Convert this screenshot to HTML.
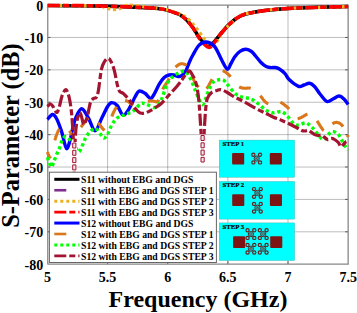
<!DOCTYPE html>
<html><head><meta charset="utf-8"><style>html,body{margin:0;padding:0;background:#fff;width:357px;height:313px;overflow:hidden;font-family:"Liberation Serif",serif}</style></head>
<body><svg width="357" height="313" viewBox="0 0 357 313" style="position:absolute;left:0;top:0">
<rect width="357" height="313" fill="#fff"/>
<path d="M107.58 5.07V264.19M167.72 5.07V264.19M227.86 5.07V264.19M288.00 5.07V264.19" stroke="#000" stroke-opacity="0.26" stroke-width="1" fill="none"/>
<path d="M47.44 37.46H348.14M47.44 69.85H348.14M47.44 102.24H348.14M47.44 134.63H348.14M47.44 167.02H348.14M47.44 199.41H348.14M47.44 231.80H348.14" stroke="#000" stroke-opacity="0.26" stroke-width="1" fill="none"/>
<path d="M107.58 264.19v-3M107.58 5.07v3M167.72 264.19v-3M167.72 5.07v3M227.86 264.19v-3M227.86 5.07v3M288.00 264.19v-3M288.00 5.07v3M47.44 37.46h3M348.14 37.46h-3M47.44 69.85h3M348.14 69.85h-3M47.44 102.24h3M348.14 102.24h-3M47.44 134.63h3M348.14 134.63h-3M47.44 167.02h3M348.14 167.02h-3M47.44 199.41h3M348.14 199.41h-3M47.44 231.80h3M348.14 231.80h-3" stroke="#555" stroke-width="1" fill="none"/>
<path d="M47.75 5.07V264.19M47.44 264.19H348.14V5.07H47.44" stroke="#888" stroke-width="1.3" fill="none"/>
<g fill="none" stroke-linejoin="round">
<path d="M47.40 5.60C52.83 5.62 69.97 5.60 80.00 5.70C90.03 5.80 99.27 5.98 107.60 6.20C115.93 6.42 123.43 6.75 130.00 7.00C136.57 7.25 142.00 7.40 147.00 7.70C152.00 8.00 156.55 8.35 160.00 8.80C163.45 9.25 165.20 9.73 167.70 10.40C170.20 11.07 172.95 12.07 175.00 12.80C177.05 13.53 178.05 13.58 180.00 14.80C181.95 16.02 184.47 17.85 186.70 20.10C188.93 22.35 191.43 25.57 193.40 28.30C195.37 31.03 196.82 34.17 198.50 36.50C200.18 38.83 201.97 40.97 203.50 42.30C205.03 43.63 206.45 44.18 207.70 44.50C208.95 44.82 210.02 44.53 211.00 44.20C211.98 43.87 212.32 43.82 213.60 42.50C214.88 41.18 216.97 38.38 218.70 36.30C220.43 34.22 222.45 31.80 224.00 30.00C225.55 28.20 226.67 26.87 228.00 25.50C229.33 24.13 230.42 23.08 232.00 21.80C233.58 20.52 235.33 19.07 237.50 17.80C239.67 16.53 240.42 15.42 245.00 14.20C249.58 12.98 257.83 11.47 265.00 10.50C272.17 9.53 278.83 8.93 288.00 8.40C297.17 7.87 309.98 7.60 320.00 7.30C330.02 7.00 343.42 6.72 348.10 6.60" stroke="#7e2f8e" stroke-width="3" stroke-dasharray="12 3 6 3"/>
<path d="M47.40 5.60C52.83 5.62 69.97 5.60 80.00 5.70C90.03 5.80 99.27 5.98 107.60 6.20C115.93 6.42 123.43 6.75 130.00 7.00C136.57 7.25 142.00 7.40 147.00 7.70C152.00 8.00 156.55 8.35 160.00 8.80C163.45 9.25 165.20 9.73 167.70 10.40C170.20 11.07 172.95 12.07 175.00 12.80C177.05 13.53 178.05 13.58 180.00 14.80C181.95 16.02 184.47 17.85 186.70 20.10C188.93 22.35 191.43 25.57 193.40 28.30C195.37 31.03 196.82 34.17 198.50 36.50C200.18 38.83 201.97 40.97 203.50 42.30C205.03 43.63 206.45 44.18 207.70 44.50C208.95 44.82 210.02 44.53 211.00 44.20C211.98 43.87 212.32 43.82 213.60 42.50C214.88 41.18 216.97 38.38 218.70 36.30C220.43 34.22 222.45 31.80 224.00 30.00C225.55 28.20 226.67 26.87 228.00 25.50C229.33 24.13 230.42 23.08 232.00 21.80C233.58 20.52 235.33 19.07 237.50 17.80C239.67 16.53 240.42 15.42 245.00 14.20C249.58 12.98 257.83 11.47 265.00 10.50C272.17 9.53 278.83 8.93 288.00 8.40C297.17 7.87 309.98 7.60 320.00 7.30C330.02 7.00 343.42 6.72 348.10 6.60" stroke="#000" stroke-width="3.5"/>
<path d="M47.40 5.60C54.50 5.63 81.23 5.70 90.00 5.80C98.77 5.90 97.00 5.75 100.00 6.20C103.00 6.65 105.67 7.95 108.00 8.50C110.33 9.05 112.00 9.50 114.00 9.50C116.00 9.50 118.00 9.17 120.00 8.50C122.00 7.83 123.83 6.00 126.00 5.50C128.17 5.00 129.50 5.22 133.00 5.50C136.50 5.78 142.50 6.70 147.00 7.20C151.50 7.70 156.55 8.03 160.00 8.50C163.45 8.97 165.20 9.37 167.70 10.00C170.20 10.63 172.95 11.58 175.00 12.30C177.05 13.02 178.05 13.38 180.00 14.30C181.95 15.22 184.43 16.05 186.70 17.80C188.97 19.55 191.55 22.47 193.60 24.80C195.65 27.13 197.27 29.52 199.00 31.80C200.73 34.08 202.42 36.55 204.00 38.50C205.58 40.45 207.25 42.37 208.50 43.50C209.75 44.63 210.42 45.22 211.50 45.30C212.58 45.38 213.87 45.05 215.00 44.00C216.13 42.95 217.17 40.88 218.30 39.00C219.43 37.12 220.52 34.58 221.80 32.70C223.08 30.82 224.55 29.15 226.00 27.70C227.45 26.25 229.08 25.20 230.50 24.00C231.92 22.80 233.25 21.63 234.50 20.50C235.75 19.37 236.25 18.28 238.00 17.20C239.75 16.12 240.50 15.12 245.00 14.00C249.50 12.88 257.83 11.43 265.00 10.50C272.17 9.57 278.83 8.93 288.00 8.40C297.17 7.87 309.98 7.60 320.00 7.30C330.02 7.00 343.42 6.72 348.10 6.60" stroke="#edb120" stroke-width="3.3" stroke-dasharray="3.2 2.8"/>
<path d="M47.40 5.40C52.83 5.42 69.97 5.37 80.00 5.50C90.03 5.63 99.27 5.95 107.60 6.20C115.93 6.45 123.43 6.75 130.00 7.00C136.57 7.25 142.00 7.40 147.00 7.70C152.00 8.00 156.55 8.35 160.00 8.80C163.45 9.25 165.20 9.73 167.70 10.40C170.20 11.07 172.95 12.07 175.00 12.80C177.05 13.53 178.05 13.58 180.00 14.80C181.95 16.02 184.47 17.82 186.70 20.10C188.93 22.38 191.43 25.68 193.40 28.50C195.37 31.32 196.82 34.50 198.50 37.00C200.18 39.50 201.82 41.78 203.50 43.50C205.18 45.22 207.18 46.88 208.60 47.30C210.02 47.72 211.02 46.80 212.00 46.00C212.98 45.20 213.38 44.12 214.50 42.50C215.62 40.88 217.12 38.38 218.70 36.30C220.28 34.22 222.45 31.80 224.00 30.00C225.55 28.20 226.67 26.87 228.00 25.50C229.33 24.13 230.42 23.08 232.00 21.80C233.58 20.52 235.33 19.07 237.50 17.80C239.67 16.53 240.42 15.42 245.00 14.20C249.58 12.98 257.83 11.47 265.00 10.50C272.17 9.53 278.83 8.93 288.00 8.40C297.17 7.87 309.98 7.60 320.00 7.30C330.02 7.00 343.42 6.72 348.10 6.60" stroke="#ff0000" stroke-width="3.5" stroke-dasharray="12 3 6 3" stroke-dashoffset="23.39"/>
<path d="M47.40 119.50C48.25 118.67 50.98 114.67 52.50 114.50C54.02 114.33 54.98 115.65 56.50 118.50C58.02 121.35 59.93 126.60 61.60 131.60C63.27 136.60 65.00 147.43 66.50 148.50C68.00 149.57 69.55 141.45 70.60 138.00C71.65 134.55 71.93 131.20 72.80 127.80C73.67 124.40 74.32 120.77 75.80 117.60C77.28 114.43 79.60 108.73 81.70 108.80C83.80 108.87 86.17 114.33 88.40 118.00C90.63 121.67 92.87 130.80 95.10 130.80C97.33 130.80 99.72 122.05 101.80 118.00C103.88 113.95 106.00 109.05 107.60 106.50C109.20 103.95 109.80 102.87 111.40 102.70C113.00 102.53 115.28 103.43 117.20 105.50C119.12 107.57 120.98 114.45 122.90 115.10C124.82 115.75 126.68 112.42 128.70 109.40C130.72 106.38 133.27 100.05 135.00 97.00C136.73 93.95 137.43 91.72 139.10 91.10C140.77 90.48 143.08 92.07 145.00 93.30C146.92 94.53 149.00 98.50 150.60 98.50C152.20 98.50 153.13 95.75 154.60 93.30C156.07 90.85 157.80 86.45 159.40 83.80C161.00 81.15 162.60 78.87 164.20 77.40C165.80 75.93 167.40 75.40 169.00 75.00C170.60 74.60 172.22 74.73 173.80 75.00C175.38 75.27 176.92 76.73 178.50 76.60C180.08 76.47 181.97 75.40 183.30 74.20C184.63 73.00 185.43 71.53 186.50 69.40C187.57 67.27 188.63 63.80 189.70 61.40C190.77 59.00 191.33 57.72 192.90 55.00C194.47 52.28 196.88 47.27 199.10 45.10C201.32 42.93 203.63 41.78 206.20 42.00C208.77 42.22 211.92 43.40 214.50 46.40C217.08 49.40 219.57 56.20 221.70 60.00C223.83 63.80 225.75 68.62 227.30 69.20C228.85 69.78 229.72 65.62 231.00 63.50C232.28 61.38 233.50 58.53 235.00 56.50C236.50 54.47 238.17 52.50 240.00 51.30C241.83 50.10 244.08 49.27 246.00 49.30C247.92 49.33 249.83 50.30 251.50 51.50C253.17 52.70 254.42 54.67 256.00 56.50C257.58 58.33 259.30 60.82 261.00 62.50C262.70 64.18 264.53 65.75 266.20 66.60C267.87 67.45 269.53 67.45 271.00 67.60C272.47 67.75 273.67 67.30 275.00 67.50C276.33 67.70 277.33 67.78 279.00 68.80C280.67 69.82 283.32 71.80 285.00 73.60C286.68 75.40 286.85 77.48 289.10 79.60C291.35 81.72 296.02 85.40 298.50 86.30C300.98 87.20 302.17 85.50 304.00 85.00C305.83 84.50 307.75 83.05 309.50 83.30C311.25 83.55 312.75 84.72 314.50 86.50C316.25 88.28 317.92 91.50 320.00 94.00C322.08 96.50 324.83 100.67 327.00 101.50C329.17 102.33 331.00 99.92 333.00 99.00C335.00 98.08 337.17 96.00 339.00 96.00C340.83 96.00 342.48 97.58 344.00 99.00C345.52 100.42 347.42 103.58 348.10 104.50" stroke="#0000ff" stroke-width="3.4"/>
<path d="M47.40 152.00 47.43 152.07 47.47 152.15 47.51 152.25 47.56 152.35 47.60 152.47 47.65 152.59 47.70 152.73 47.76 152.87 47.81 153.02 47.87 153.18 47.93 153.34 47.99 153.51 48.06 153.68 48.12 153.86 48.19 154.04 48.26 154.22 48.33 154.40 48.40 154.58 48.47 154.76 48.54 154.94 48.62 155.11 48.69 155.29 48.77 155.46 48.84 155.62 48.92 155.78 48.99 155.94 49.07 156.09 49.15 156.22 49.22 156.36 49.30 156.48 49.37 156.59 49.44 156.69 49.52 156.78 49.59 156.85 49.66 156.92 49.73 156.96 49.80 157.00 49.87 157.01 49.94 157.02 50.00 157.00 50.06 156.97 50.13 156.93 50.19 156.87 50.25 156.80 50.32 156.73 50.38 156.64 50.44 156.54 50.50 156.43 50.57 156.31M54.83 140.28 54.90 140.02 54.98 139.76 55.05 139.50 55.13 139.25 55.20 139.00 55.28 138.76 55.35 138.51 55.43 138.27 55.50 138.03 55.58 137.79 55.66 137.55 55.73 137.31 55.81 137.07 55.89 136.83 55.97 136.59 56.04 136.36 56.12 136.12 56.20 135.89 56.28 135.66 56.36 135.43 56.44 135.20 56.52 134.98 56.61 134.75 56.69 134.53 56.77 134.31 56.85 134.09 56.93 133.88 57.02 133.67 57.10 133.46 57.18 133.25 57.27 133.04 57.35 132.84 57.44 132.64 57.53 132.44 57.61 132.25 57.70 132.06 57.79 131.87 57.87 131.69 57.96 131.51 58.05 131.33 58.14 131.16 58.23 130.99 58.32 130.82 58.41 130.66 58.50 130.50 58.59 130.35 58.68 130.19 58.78 130.04 58.87 129.90 58.97 129.75 59.07 129.61 59.16 129.47 59.26 129.33 59.36 129.20 59.46 129.07M69.41 130.89 69.50 131.00 69.59 131.12 69.69 131.24 69.79 131.37 69.88 131.51 69.98 131.65 70.08 131.79 70.18 131.94 70.28 132.10 70.38 132.26 70.48 132.42 70.58 132.59 70.68 132.75 70.78 132.92 70.88 133.10 70.99 133.27 71.09 133.44 71.19 133.61 71.29 133.78 71.40 133.96 71.50 134.12 71.60 134.29 71.71 134.46 71.81 134.62 71.91 134.78 72.01 134.94M80.88 127.21 80.96 127.11 81.03 127.01 81.10 126.91 81.18 126.82 81.25 126.72 81.32 126.63 81.40 126.53 81.47 126.44 81.54 126.34 81.62 126.25 81.69 126.16 81.76 126.06 81.84 125.97 81.91 125.88 81.99 125.78 82.06 125.69 82.14 125.60 82.21 125.50 82.29 125.40 82.37 125.31 82.45 125.21 82.52 125.11 82.60 125.01 82.68 124.91 82.76 124.81 82.84 124.71 82.92 124.61 83.00 124.50 83.08 124.39 83.16 124.28 83.25 124.17 83.33 124.06 83.42 123.95 83.51 123.83 83.60 123.72 83.68 123.60 83.77 123.48 83.86 123.36 83.95 123.24 84.04 123.12 84.14 123.00 84.23 122.88 84.32 122.76 84.41 122.64 84.50 122.52 84.60 122.40 84.69 122.28 84.78 122.16 84.87 122.04 84.97 121.92 85.06 121.80 85.15 121.68 85.24 121.56 85.33 121.45 85.42 121.33 85.51 121.22 85.60 121.11 85.68 121.00 85.77 120.89 85.86 120.78 85.94 120.67 86.02 120.57 86.11 120.47 86.19 120.37 86.27 120.27 86.35 120.18 86.42 120.09 86.50 120.00 86.57 119.91 86.65 119.83 86.72 119.74 86.79 119.66 86.85 119.58 86.92 119.50 86.98 119.42 87.05 119.34 87.11 119.26 87.17 119.19 87.23 119.11 87.29 119.04 87.35 118.97 87.41 118.90 87.47 118.83 87.52 118.76 87.58 118.69 87.64 118.63 87.69 118.56 87.75 118.50 87.81 118.44 87.86 118.38 87.92 118.32 87.98 118.26 88.03 118.20 88.09 118.15 88.15 118.09 88.21 118.04 88.27 117.99 88.33 117.94M98.01 122.74 98.10 122.84 98.19 122.94 98.27 123.04 98.36 123.15 98.45 123.25 98.54 123.35 98.62 123.45 98.71 123.56 98.80 123.66 98.89 123.76 98.97 123.87 99.06 123.97 99.15 124.08 99.24 124.18 99.33 124.29 99.41 124.39 99.50 124.50 99.59 124.61 99.68 124.72 99.76 124.83 99.85 124.94 99.94 125.06 100.03 125.18 100.12 125.30 100.21 125.42 100.30 125.54 100.39 125.66 100.48 125.78 100.57 125.91 100.66 126.03 100.74 126.16 100.83 126.28 100.92 126.41 101.01 126.53 101.10 126.66 101.19 126.78 101.28 126.91 101.37 127.03 101.46 127.15 101.55 127.27 101.64 127.39 101.72 127.51 101.81 127.63 101.90 127.74 101.99 127.85 102.07 127.97 102.16 128.07 102.25 128.18 102.33 128.28 102.42 128.38 102.50 128.48 102.59 128.58 102.67 128.67 102.75 128.76 102.84 128.84 102.92 128.92 103.00 129.00 103.08 129.08 103.16 129.15 103.24 129.23 103.32 129.31 103.40 129.39 103.48 129.46 103.55 129.54 103.63 129.62 103.71 129.70 103.79 129.77 103.86 129.85 103.94 129.92 104.01 129.99 104.09 130.07 104.16 130.13 104.24 130.20 104.31 130.26 104.38 130.32 104.46 130.38 104.53 130.44M111.81 116.48 111.91 116.21 112.01 115.94 112.11 115.67 112.22 115.41 112.32 115.15 112.42 114.90 112.52 114.65 112.62 114.41 112.71 114.17 112.81 113.94 112.91 113.72 113.00 113.50 113.09 113.29 113.19 113.08 113.28 112.88 113.37 112.68 113.46 112.48 113.55 112.29 113.64 112.10 113.73 111.91 113.82 111.73 113.91 111.55 114.00 111.37 114.09 111.19 114.17 111.02 114.26 110.85 114.35 110.68 114.44 110.52 114.52 110.35 114.61 110.19 114.70 110.03 114.78 109.88 114.87 109.72 114.95 109.57 115.04 109.41 115.12 109.26 115.21 109.12 115.29 108.97 115.38 108.82 115.47 108.68 115.55 108.53 115.64 108.39 115.72 108.25 115.81 108.11 115.89 107.97 115.98 107.83 116.07 107.69 116.15 107.55 116.24 107.41 116.33 107.28 116.41 107.14 116.50 107.00 116.59 106.86 116.67 106.73M125.10 100.50 125.20 100.52 125.30 100.53 125.40 100.55 125.50 100.57 125.60 100.59 125.70 100.61 125.80 100.63 125.90 100.66 126.00 100.69 126.10 100.72 126.20 100.75 126.30 100.78 126.40 100.81 126.50 100.85 126.60 100.88 126.70 100.92 126.80 100.96 126.90 101.00 127.00 101.04 127.10 101.08 127.20 101.12 127.30 101.17 127.40 101.21 127.50 101.26 127.60 101.31 127.70 101.35 127.80 101.40 127.90 101.45 128.00 101.50 128.10 101.55 128.20 101.61 128.30 101.66 128.40 101.72 128.49 101.79 128.59 101.85 128.69 101.92 128.78 101.99 128.88 102.06 128.98 102.13 129.07 102.21 129.17 102.28 129.26 102.36 129.36 102.44 129.46 102.52 129.55 102.60 129.65 102.69 129.74 102.77 129.84 102.85 129.94 102.94 130.03 103.02 130.13 103.11 130.23 103.19 130.33 103.28 130.43 103.36 130.53 103.44 130.63 103.53 130.73 103.61 130.83 103.69 130.93 103.77 131.03 103.85 131.14 103.93 131.24 104.01 131.35 104.09 131.45 104.16 131.56 104.23 131.67 104.30 131.78 104.37 131.89 104.44 132.00 104.50 132.11 104.56 132.23 104.63 132.35 104.69 132.46 104.75 132.58 104.81 132.71 104.88 132.83 104.94 132.95 105.00 133.08 105.07M147.83 101.33 147.94 101.31 148.04 101.28 148.15 101.25 148.26 101.22 148.37 101.20 148.47 101.17 148.58 101.15 148.68 101.12 148.79 101.10 148.89 101.08 149.00 101.06 149.10 101.04 149.20 101.02 149.30 101.00 149.40 100.98 149.50 100.97 149.59 100.95 149.69 100.94 149.78 100.92 149.88 100.91 149.97 100.90 150.06 100.90 150.15 100.89 150.24 100.88 150.33 100.88 150.42 100.87 150.51 100.87 150.60 100.87 150.69 100.87 150.78 100.87 150.86 100.87 150.95 100.87 151.04 100.87 151.12 100.88 151.21 100.88 151.30 100.88 151.39 100.89 151.48 100.89 151.57 100.90 151.65 100.90 151.74 100.91 151.84 100.92 151.93 100.92 152.02 100.93 152.11 100.94 152.21 100.94 152.30 100.95 152.40 100.96 152.49 100.97 152.59 100.97 152.69 100.98 152.79 100.99 152.90 100.99 153.00 101.00 153.11 101.01 153.21 101.02 153.33 101.04 153.44 101.06 153.55 101.09 153.67 101.11 153.79 101.15 153.91 101.18 154.03 101.22 154.15 101.25 154.27 101.29 154.40 101.33 154.52 101.38 154.65 101.42 154.77 101.46 154.90 101.50 155.03 101.54 155.15 101.58 155.28 101.62 155.41 101.66 155.53 101.69 155.66 101.72 155.78 101.75 155.91 101.78 156.03 101.80 156.16 101.82 156.28 101.84 156.40 101.85 156.52 101.85 156.64 101.86 156.75 101.85 156.87 101.84 156.98 101.82 157.09 101.80 157.20 101.77 157.30 101.73 157.41 101.69 157.51 101.63 157.60 101.57 157.70 101.50 157.79 101.42 157.88 101.33 157.97 101.24 158.06 101.14 158.14 101.03 158.22 100.91 158.30 100.79 158.38 100.66 158.46 100.52 158.53 100.38 158.60 100.23 158.68 100.08 158.75 99.92 158.82 99.76M162.73 89.45 162.81 89.28 162.88 89.11 162.95 88.95 163.03 88.78 163.10 88.62 163.18 88.46 163.25 88.31 163.33 88.15 163.40 88.00 163.48 87.85 163.55 87.70 163.63 87.56 163.70 87.42 163.78 87.28 163.86 87.14 163.93 87.01 164.01 86.87 164.09 86.74 164.16 86.61 164.24 86.48 164.32 86.35 164.40 86.23 164.47 86.10 164.55 85.98 164.63 85.86 164.71 85.73 164.79 85.61 164.87 85.49 164.94 85.38 165.02 85.26 165.10 85.14 165.18 85.02 165.26 84.90 165.34 84.79 165.41 84.67 165.49 84.55 165.57 84.44 165.65 84.32 165.73 84.20 165.81 84.09 165.88 83.97 165.96 83.85 166.04 83.73 166.12 83.61 166.19 83.49 166.27 83.37 166.35 83.25 166.42 83.12 166.50 83.00 166.58 82.88 166.65 82.75 166.73 82.63 166.80 82.51 166.88 82.39 166.95 82.27 167.02 82.16 167.10 82.04 167.17 81.92 167.25 81.81 167.32 81.69 167.39 81.58 167.46 81.46 167.54 81.35 167.61 81.23 167.68 81.12 167.76 81.00 167.83 80.89 167.90 80.77 167.97 80.66 168.05 80.54 168.12 80.42 168.20 80.30 168.27 80.18 168.34 80.06 168.42 79.93 168.49 79.81 168.57 79.68 168.64 79.56 168.72 79.43 168.79 79.29 168.87 79.16 168.95 79.02 169.02 78.89 169.10 78.74 169.18 78.60 169.26 78.46M175.55 67.15 175.64 67.07 175.74 66.98 175.83 66.89 175.92 66.81 176.01 66.72 176.11 66.64 176.21 66.55 176.30 66.47 176.40 66.38 176.50 66.30 176.60 66.22 176.70 66.13 176.80 66.05 176.91 65.96 177.01 65.88 177.11 65.79 177.22 65.71 177.32 65.63 177.43 65.54 177.53 65.46 177.64 65.38 177.74 65.30 177.85 65.22 177.96 65.14 178.07 65.06 178.18 64.98 178.29 64.91 178.40 64.83 178.51 64.76 178.62 64.69 178.74 64.62 178.85 64.55 178.97 64.49 179.08 64.42 179.20 64.36 179.31 64.30 179.43 64.25 179.55 64.20 179.66 64.14 179.78 64.10 179.90 64.05 180.02 64.01 180.14 63.97 180.26 63.94 180.38 63.90 180.50 63.88 180.63 63.85 180.75 63.83 180.88 63.81 181.00 63.80 181.13 63.79 181.25 63.78 181.39 63.78 181.52 63.77 181.65 63.77 181.79 63.77 181.93 63.78 182.06 63.79 182.21 63.79 182.35 63.81 182.49 63.82 182.63 63.84 182.78 63.86 182.92 63.88 183.07 63.90 183.21 63.93 183.36 63.96 183.51 63.99 183.65 64.03 183.80 64.06 183.95 64.10 184.09 64.15 184.24 64.19 184.38 64.24 184.53 64.29 184.67 64.34 184.81 64.40 184.95 64.46 185.09 64.52 185.23 64.59 185.36 64.66 185.50 64.73 185.63 64.80 185.76 64.88 185.89 64.96 186.02 65.04 186.14 65.12 186.26 65.21 186.38 65.31 186.50 65.40M192.15 76.00 192.28 76.32 192.41 76.64 192.54 76.96 192.68 77.29 192.81 77.61 192.94 77.93 193.07 78.25 193.21 78.57 193.34 78.89 193.47 79.20 193.61 79.51 193.74 79.82 193.87 80.12 194.01 80.42 194.14 80.71 194.27 81.00 194.40 81.28 194.53 81.55 194.66 81.81 194.79 82.07 194.92 82.32 195.05 82.55 195.17 82.78 195.30 83.00 195.43 83.21 195.55 83.42 195.68 83.62 195.81 83.81 195.93 84.00 196.06 84.19 196.19 84.37 196.32 84.55 196.45 84.72 196.58 84.89 196.71 85.06 196.84 85.22 196.96 85.37 197.09 85.53 197.22 85.68 197.35 85.82 197.48 85.97 197.61 86.11 197.74 86.24 197.86 86.38 197.99 86.50 198.12 86.63 198.24 86.76 198.36 86.88 198.49 86.99 198.61 87.11 198.73 87.22M206.60 88.80 206.71 88.66 206.82 88.51 206.94 88.34 207.06 88.17 207.19 87.98 207.31 87.79 207.44 87.58 207.57 87.37 207.71 87.15 207.84 86.92 207.98 86.69 208.12 86.45 208.26 86.20 208.41 85.95 208.55 85.69 208.70 85.43 208.85 85.16 208.99 84.89 209.14 84.62 209.29 84.34 209.44 84.07 209.60 83.79 209.75 83.51 209.90 83.23 210.05 82.96 210.20 82.68 210.35 82.40 210.50 82.13 210.65 81.86 210.80 81.59 210.95 81.33 211.09 81.07 211.24 80.81 211.38 80.56 211.52 80.32 211.66 80.08 211.80 79.85 211.94 79.62 212.07 79.41 212.20 79.20M222.61 70.65 222.72 70.68 222.82 70.71 222.93 70.75 223.04 70.78 223.15 70.83 223.26 70.87 223.37 70.91 223.48 70.96 223.59 71.01 223.70 71.06 223.81 71.12 223.92 71.17 224.03 71.23 224.14 71.29 224.25 71.35 224.37 71.42 224.48 71.49 224.59 71.55 224.70 71.62 224.82 71.70 224.93 71.77 225.05 71.84 225.16 71.92 225.28 72.00 225.40 72.08 225.52 72.16 225.64 72.24 225.76 72.33 225.88 72.41 226.00 72.50 226.12 72.59 226.25 72.68 226.37 72.77 226.50 72.87 226.63 72.97 226.76 73.07 226.89 73.18 227.02 73.28 227.15 73.39 227.28 73.50 227.42 73.62 227.55 73.73 227.68 73.85 227.82 73.97 227.96 74.09 228.09 74.21 228.23 74.34 228.36 74.46 228.50 74.59 228.64 74.72 228.77 74.85 228.91 74.98 229.05 75.11 229.18 75.25 229.32 75.38 229.46 75.52 229.59 75.66 229.73 75.80 229.86 75.93 230.00 76.07 230.13 76.21 230.27 76.36 230.40 76.50 230.53 76.64 230.66 76.78M239.15 86.84 239.25 86.90 239.35 86.96 239.46 87.02 239.56 87.08 239.67 87.13 239.78 87.19 239.89 87.25 240.00 87.30 240.11 87.35 240.23 87.40 240.34 87.45 240.46 87.50 240.58 87.54 240.70 87.59 240.82 87.63 240.94 87.67 241.07 87.70 241.19 87.74 241.32 87.77 241.44 87.81 241.57 87.84 241.70 87.87 241.82 87.90 241.95 87.92 242.08 87.95 242.21 87.97 242.34 88.00 242.47 88.02 242.60 88.04 242.73 88.06 242.86 88.08 242.99 88.10 243.12 88.11 243.25 88.13 243.38 88.15 243.51 88.16 243.63 88.17 243.76 88.19 243.89 88.20 244.02 88.21 244.14 88.23 244.27 88.24 244.39 88.25 244.52 88.26 244.64 88.27 244.76 88.28 244.88 88.29 245.00 88.30 245.12 88.31 245.24 88.31 245.35 88.32 245.47 88.32 245.58 88.31 245.69 88.31 245.80 88.30 245.92 88.30 246.03 88.29 246.14 88.27 246.25 88.26 246.36 88.25 246.46 88.23 246.57 88.22 246.68 88.20 246.79 88.18 246.90 88.16 247.00 88.15 247.11 88.13 247.22 88.11 247.33 88.10 247.43 88.08 247.54 88.06 247.65 88.05 247.76 88.04 247.87 88.03 247.98 88.02 248.09 88.01 248.20 88.00 248.32 88.00 248.43 87.99 248.54 87.99 248.66 88.00 248.78 88.00 248.89 88.01 249.01 88.02 249.13 88.03 249.25 88.05 249.38 88.07 249.50 88.10 249.63 88.13 249.75 88.16 249.88 88.19 250.01 88.23 250.15 88.26 250.28 88.30 250.41 88.34 250.55 88.38 250.69 88.42M260.27 95.66 260.42 95.84 260.57 96.03 260.73 96.22 260.88 96.42 261.03 96.62 261.19 96.83 261.35 97.04 261.51 97.25 261.67 97.46 261.83 97.68 262.00 97.90 262.16 98.11 262.33 98.33 262.49 98.55 262.66 98.77 262.83 98.99 262.99 99.21 263.16 99.43 263.33 99.64 263.49 99.86 263.66 100.07 263.83 100.27 264.00 100.48 264.16 100.68 264.33 100.87 264.50 101.06 264.66 101.25 264.82 101.43 264.99 101.60 265.15 101.77 265.31 101.93 265.47 102.08 265.63 102.22 265.79 102.36 265.95 102.48 266.10 102.60 266.25 102.71 266.41 102.81 266.56 102.91 266.71 103.01 266.87 103.10 267.02 103.18 267.17 103.26 267.33 103.34 267.48 103.41 267.63 103.48 267.78 103.54 267.94 103.60 268.09 103.65 268.24 103.70 268.39 103.75M280.44 102.16 280.57 102.24 280.71 102.32 280.85 102.41 281.00 102.50 281.15 102.60 281.32 102.70 281.48 102.80 281.66 102.91 281.84 103.03 282.02 103.15 282.21 103.27 282.40 103.40 282.60 103.54 282.80 103.67 283.01 103.81 283.22 103.96 283.43 104.11 283.64 104.26 283.86 104.41 284.08 104.57 284.30 104.73 284.52 104.89 284.74 105.06 284.97 105.23 285.19 105.40 285.42 105.58 285.64 105.76 285.86 105.93 286.09 106.12 286.31 106.30 286.53 106.48 286.75 106.67 286.96 106.86 287.18 107.05 287.39 107.24 287.59 107.43 287.80 107.63 288.00 107.82 288.19 108.02 288.38 108.21 288.57 108.41 288.75 108.61 288.93 108.80 289.10 109.00M297.61 118.83 297.75 118.79 297.89 118.75 298.03 118.70 298.17 118.65 298.31 118.60 298.46 118.55 298.61 118.49 298.75 118.44 298.90 118.38 299.05 118.33 299.21 118.27 299.36 118.21 299.52 118.16 299.68 118.11 299.84 118.05 300.00 118.00 300.17 117.95 300.34 117.88 300.51 117.81 300.69 117.74 300.87 117.66 301.05 117.57 301.24 117.48 301.43 117.38 301.62 117.28 301.81 117.18 302.01 117.07 302.20 116.96 302.40 116.84 302.60 116.73 302.81 116.61 303.01 116.49 303.21 116.37 303.41 116.24 303.62 116.12 303.82 116.00 304.02 115.88 304.22 115.76 304.42 115.64 304.62 115.52 304.82 115.41 305.02 115.29 305.22 115.18 305.41 115.08 305.60 114.97 305.79 114.87 305.98 114.78 306.16 114.69 306.34 114.61 306.52 114.53 306.69 114.45 306.86 114.39 307.03 114.33 307.19 114.28 307.35 114.24 307.50 114.20M317.00 120.90 317.15 121.09 317.30 121.30 317.46 121.52 317.62 121.75 317.78 121.99 317.95 122.23 318.12 122.49 318.29 122.75 318.46 123.02 318.63 123.30 318.81 123.58 318.99 123.87 319.17 124.16 319.35 124.45 319.53 124.75 319.72 125.04 319.90 125.34 320.08 125.64 320.27 125.93 320.45 126.23 320.63 126.52 320.82 126.80 321.00 127.09 321.18 127.37 321.36 127.64 321.54 127.90 321.72 128.16 321.89 128.41 322.07 128.66 322.24 128.89 322.41 129.11 322.58 129.32 322.74 129.52 322.90 129.70 323.06 129.87 323.22 130.03 323.37 130.17 323.52 130.30 323.66 130.41 323.80 130.50M332.40 123.80 332.50 123.74 332.60 123.68 332.70 123.61 332.80 123.56 332.90 123.50 333.00 123.44 333.10 123.39 333.20 123.33 333.30 123.28 333.39 123.23 333.49 123.18 333.58 123.13 333.68 123.09 333.77 123.04 333.87 123.00 333.96 122.95 334.06 122.91 334.15 122.87 334.24 122.84 334.34 122.80 334.43 122.77 334.52 122.73 334.62 122.70 334.71 122.67 334.80 122.64 334.89 122.61 334.99 122.59 335.08 122.56 335.17 122.54 335.26 122.52 335.36 122.50 335.45 122.48 335.54 122.47 335.64 122.45 335.73 122.44 335.82 122.43 335.92 122.42 336.01 122.41 336.11 122.40 336.20 122.40 336.30 122.40 336.39 122.40 336.49 122.40 336.58 122.40 336.68 122.40 336.78 122.41 336.88 122.42 336.97 122.43 337.07 122.44 337.17 122.45 337.27 122.47 337.37 122.48 337.46 122.50 337.56 122.52 337.66 122.54 337.76 122.56 337.86 122.59 337.95 122.61 338.05 122.64 338.15 122.67 338.25 122.70 338.34 122.73 338.44 122.76 338.54 122.80 338.63 122.83 338.73 122.87 338.82 122.91 338.92 122.94 339.01 122.98 339.11 123.03 339.20 123.07 339.29 123.11 339.38 123.16 339.47 123.20 339.56 123.25 339.65 123.30 339.74 123.35 339.83 123.40 339.91 123.45 340.00 123.50 340.08 123.55 340.17 123.61 340.25 123.66 340.33 123.72 340.41 123.78 340.49 123.84 340.57 123.91 340.65 123.97 340.73 124.04 340.81 124.10 340.88 124.17 340.96 124.24 341.03 124.31 341.11 124.39 341.18 124.46 341.26 124.53 341.33 124.61 341.40 124.69 341.48 124.76 341.55 124.84 341.62 124.92 341.69 125.01 341.77 125.09 341.84 125.17 341.91 125.25 341.98 125.34 342.05 125.42 342.13 125.51 342.20 125.60 342.27 125.69 342.34 125.78 342.41 125.86 342.49 125.95 342.56 126.05 342.63 126.14 342.70 126.23 342.78 126.32 342.85 126.41 342.93 126.51 343.00 126.60M347.45 134.96 347.51 135.12 347.56 135.28 347.61 135.44 347.65 135.59 347.70 135.74 347.74 135.88 347.79 136.02 347.83 136.16 347.87 136.29 347.91 136.41 347.94 136.53 347.98 136.64 348.01 136.74 348.04 136.83 348.07 136.92 348.10 137.00" stroke="#d9771a" stroke-width="3.1" fill="none" stroke-linejoin="round"/>
<path d="M47.40 157.30C47.75 158.25 48.82 161.38 49.50 163.00C50.18 164.62 50.82 167.12 51.50 167.00C52.18 166.88 52.88 164.03 53.60 162.30C54.32 160.57 55.08 158.40 55.80 156.60C56.52 154.80 57.18 153.18 57.90 151.50C58.62 149.82 59.42 148.33 60.10 146.50C60.78 144.67 61.10 142.17 62.00 140.50C62.90 138.83 64.07 136.48 65.50 136.50C66.93 136.52 68.90 138.75 70.60 140.60C72.30 142.45 74.32 145.70 75.70 147.60C77.08 149.50 77.73 152.47 78.90 152.00C80.07 151.53 81.60 147.12 82.70 144.80C83.80 142.48 84.38 140.17 85.50 138.10C86.62 136.03 87.95 134.00 89.40 132.40C90.85 130.80 92.93 128.98 94.20 128.50C95.47 128.02 96.05 128.70 97.00 129.50C97.95 130.30 98.77 131.87 99.90 133.30C101.03 134.73 102.52 137.93 103.80 138.10C105.08 138.27 106.33 136.37 107.60 134.30C108.87 132.23 110.12 128.10 111.40 125.70C112.68 123.30 113.87 121.50 115.30 119.90C116.73 118.30 118.57 116.90 120.00 116.10C121.43 115.30 122.45 115.58 123.90 115.10C125.35 114.62 127.23 113.78 128.70 113.20C130.17 112.62 130.77 113.13 132.70 111.60C134.63 110.07 138.42 105.35 140.30 104.00C142.18 102.65 142.72 103.33 144.00 103.50C145.28 103.67 146.17 104.33 148.00 105.00C149.83 105.67 153.00 107.92 155.00 107.50C157.00 107.08 158.73 104.33 160.00 102.50C161.27 100.67 161.63 99.08 162.60 96.50C163.57 93.92 164.73 89.65 165.80 87.00C166.87 84.35 167.67 82.47 169.00 80.60C170.33 78.73 172.08 77.13 173.80 75.80C175.52 74.47 177.58 73.40 179.30 72.60C181.02 71.80 182.77 70.87 184.10 71.00C185.43 71.13 186.37 72.33 187.30 73.40C188.23 74.47 188.90 75.93 189.70 77.40C190.50 78.87 191.30 80.35 192.10 82.20C192.90 84.05 193.82 86.78 194.50 88.50C195.18 90.22 195.38 90.58 196.20 92.50C197.02 94.42 198.33 97.97 199.40 100.00C200.47 102.03 201.53 104.98 202.60 104.70C203.67 104.42 204.73 100.82 205.80 98.30C206.87 95.78 207.80 92.25 209.00 89.60C210.20 86.95 211.55 84.00 213.00 82.40C214.45 80.80 215.98 80.40 217.70 80.00C219.42 79.60 221.62 79.17 223.30 80.00C224.98 80.83 225.77 82.72 227.80 85.00C229.83 87.28 232.95 91.62 235.50 93.70C238.05 95.78 240.55 96.65 243.10 97.50C245.65 98.35 248.23 97.73 250.80 98.80C253.37 99.87 255.95 101.98 258.50 103.90C261.05 105.82 263.55 108.80 266.10 110.30C268.65 111.80 271.23 112.68 273.80 112.90C276.37 113.12 279.15 110.97 281.50 111.60C283.85 112.23 285.75 114.57 287.90 116.70C290.05 118.83 292.42 123.07 294.40 124.40C296.38 125.73 297.95 124.97 299.80 124.70C301.65 124.43 303.75 122.63 305.50 122.80C307.25 122.97 308.72 124.42 310.30 125.70C311.88 126.98 312.97 128.20 315.00 130.50C317.03 132.80 320.40 138.70 322.50 139.50C324.60 140.30 325.95 136.65 327.60 135.30C329.25 133.95 330.65 131.57 332.40 131.40C334.15 131.23 336.67 133.08 338.10 134.30C339.53 135.52 340.00 137.03 341.00 138.70C342.00 140.37 342.92 142.42 344.10 144.30C345.28 146.18 347.43 149.05 348.10 150.00" stroke="#00ff00" stroke-width="3.4" stroke-dasharray="3.2 2.8"/>
<path d="M47.40 106.50C47.90 106.08 49.47 104.00 50.40 104.00C51.33 104.00 51.98 105.08 53.00 106.50C54.02 107.92 55.50 112.25 56.50 112.50C57.50 112.75 58.08 110.75 59.00 108.00C59.92 105.25 60.97 99.00 62.00 96.00C63.03 93.00 64.28 90.67 65.20 90.00C66.12 89.33 66.72 90.17 67.50 92.00C68.28 93.83 69.18 97.05 69.90 101.00C70.62 104.95 71.23 109.20 71.80 115.70C72.37 122.20 72.90 129.62 73.30 140.00C73.70 150.38 74.05 171.67 74.20 178.00" stroke="#a2142f" stroke-width="3.2" stroke-dasharray="12 3 6 3" stroke-dashoffset="2.61"/>
<path d="M74.20 178.00C74.37 171.67 74.77 149.33 75.20 140.00C75.63 130.67 76.08 126.50 76.80 122.00C77.52 117.50 78.77 114.08 79.50 113.00C80.23 111.92 80.52 113.58 81.20 115.50C81.88 117.42 82.88 123.50 83.60 124.50C84.32 125.50 84.85 122.92 85.50 121.50C86.15 120.08 86.92 118.17 87.50 116.00C88.08 113.83 88.45 110.92 89.00 108.50C89.55 106.08 90.05 103.17 90.80 101.50C91.55 99.83 92.55 99.20 93.50 98.50C94.45 97.80 95.67 98.72 96.50 97.30C97.33 95.88 97.68 94.63 98.50 90.00C99.32 85.37 100.43 74.17 101.40 69.50C102.37 64.83 103.20 63.87 104.30 62.00C105.40 60.13 106.88 58.38 108.00 58.30C109.12 58.22 109.93 59.42 111.00 61.50C112.07 63.58 113.33 66.85 114.40 70.80C115.47 74.75 116.50 81.73 117.40 85.20C118.30 88.67 118.87 90.27 119.80 91.60C120.73 92.93 121.93 92.40 123.00 93.20C124.07 94.00 125.13 95.27 126.20 96.40C127.27 97.53 128.32 98.53 129.40 100.00C130.48 101.47 131.52 103.53 132.70 105.20C133.88 106.87 135.23 108.72 136.50 110.00C137.77 111.28 138.80 112.42 140.30 112.90C141.80 113.38 143.37 113.55 145.50 112.90C147.63 112.25 150.52 110.53 153.10 109.00C155.68 107.47 158.35 106.03 161.00 103.70C163.65 101.37 166.33 97.92 169.00 95.00C171.67 92.08 174.75 88.87 177.00 86.20C179.25 83.53 180.92 81.13 182.50 79.00C184.08 76.87 185.30 74.73 186.50 73.40C187.70 72.07 188.63 70.60 189.70 71.00C190.77 71.40 191.97 74.13 192.90 75.80C193.83 77.47 194.62 79.10 195.30 81.00C195.98 82.90 196.45 84.32 197.00 87.20C197.55 90.08 198.17 94.50 198.60 98.30C199.03 102.10 199.17 103.88 199.60 110.00C200.03 116.12 200.70 126.50 201.20 135.00C201.70 143.50 202.37 156.67 202.60 161.00" stroke="#a2142f" stroke-width="3.2" stroke-dasharray="12 3 6 3" stroke-dashoffset="5.78"/>
<path d="M202.60 161.00C202.83 156.67 203.50 143.50 204.00 135.00C204.50 126.50 205.03 116.12 205.60 110.00C206.17 103.88 206.43 101.18 207.40 98.30C208.37 95.42 209.80 94.02 211.40 92.70C213.00 91.38 215.40 90.92 217.00 90.40C218.60 89.88 219.42 89.33 221.00 89.60C222.58 89.87 224.78 91.08 226.50 92.00C228.22 92.92 229.80 94.18 231.30 95.10C232.80 96.02 233.10 96.25 235.50 97.50C237.90 98.75 242.30 100.77 245.70 102.60C249.10 104.43 252.52 106.68 255.90 108.50C259.28 110.32 263.07 112.05 266.00 113.50C268.93 114.95 271.22 116.20 273.50 117.20C275.78 118.20 277.78 118.70 279.70 119.50C281.62 120.30 283.03 121.08 285.00 122.00C286.97 122.92 289.58 124.08 291.50 125.00C293.42 125.92 294.80 126.58 296.50 127.50C298.20 128.42 300.28 129.92 301.70 130.50C303.12 131.08 303.88 131.00 305.00 131.00C306.12 131.00 306.87 129.95 308.40 130.50C309.93 131.05 312.60 133.47 314.20 134.30C315.80 135.13 316.73 135.33 318.00 135.50C319.27 135.67 320.23 134.63 321.80 135.30C323.37 135.97 325.80 138.98 327.40 139.50C329.00 140.02 330.20 138.40 331.40 138.40C332.60 138.40 333.40 138.78 334.60 139.50C335.80 140.22 337.53 141.50 338.60 142.70C339.67 143.90 339.82 146.83 341.00 146.70C342.18 146.57 344.52 142.83 345.70 141.90C346.88 140.97 347.70 141.23 348.10 141.10" stroke="#a2142f" stroke-width="3.2" stroke-dasharray="12 3 6 3" stroke-dashoffset="12.87"/>
<rect x="71.5" y="142" width="5.6" height="32" fill="#fff"/>
<rect x="199.6" y="134.5" width="6" height="29" fill="#fff"/>
<rect x="72.70" y="143.00" width="3.2" height="5.00" fill="#f4e6ea" stroke="#a2142f" stroke-width="1"/>
<rect x="72.70" y="150.30" width="3.2" height="5.00" fill="#f4e6ea" stroke="#a2142f" stroke-width="1"/>
<rect x="72.70" y="157.60" width="3.2" height="5.00" fill="#f4e6ea" stroke="#a2142f" stroke-width="1"/>
<rect x="72.70" y="164.90" width="3.2" height="5.00" fill="#f4e6ea" stroke="#a2142f" stroke-width="1"/>
<rect x="72.70" y="172.20" width="3.2" height="0.80" fill="#f4e6ea" stroke="#a2142f" stroke-width="1"/>
<rect x="201.00" y="135.50" width="3.2" height="5.00" fill="#f4e6ea" stroke="#a2142f" stroke-width="1"/>
<rect x="201.00" y="142.80" width="3.2" height="5.00" fill="#f4e6ea" stroke="#a2142f" stroke-width="1"/>
<rect x="201.00" y="150.10" width="3.2" height="5.00" fill="#f4e6ea" stroke="#a2142f" stroke-width="1"/>
<rect x="201.00" y="157.40" width="3.2" height="4.60" fill="#f4e6ea" stroke="#a2142f" stroke-width="1"/>
</g>
<g font-family="Liberation Serif" font-weight="bold" font-size="14" fill="#000">
<text x="43.2" y="10.67" text-anchor="end">0</text>
<text x="43.2" y="43.06" text-anchor="end">-10</text>
<text x="43.2" y="75.45" text-anchor="end">-20</text>
<text x="43.2" y="107.84" text-anchor="end">-30</text>
<text x="43.2" y="140.23" text-anchor="end">-40</text>
<text x="43.2" y="172.62" text-anchor="end">-50</text>
<text x="43.2" y="205.01" text-anchor="end">-60</text>
<text x="43.2" y="237.40" text-anchor="end">-70</text>
<text x="43.2" y="269.79" text-anchor="end">-80</text>
<text x="47.44" y="281.8" text-anchor="middle">5</text>
<text x="107.58" y="281.8" text-anchor="middle">5.5</text>
<text x="167.72" y="281.8" text-anchor="middle">6</text>
<text x="227.86" y="281.8" text-anchor="middle">6.5</text>
<text x="288.00" y="281.8" text-anchor="middle">7</text>
<text x="348.14" y="281.8" text-anchor="middle">7.5</text>
</g>
<text x="198" y="306.8" text-anchor="middle" font-family="Liberation Serif" font-weight="bold" font-size="24">Frequency (GHz)</text>
<text transform="translate(18.6,135.6) rotate(-90)" text-anchor="middle" font-family="Liberation Serif" font-weight="bold" font-size="24.4">S-Parameter (dB)</text>
<rect x="49.4" y="172.2" width="167" height="90.3" fill="#fff" stroke="#666" stroke-width="1"/>
<g font-family="Liberation Serif" font-weight="bold" font-size="10" fill="#000">
<path d="M54.3 179.30H79.5" stroke="#000" stroke-width="3.0"/>
<text x="81" y="183.00" textLength="112.4" lengthAdjust="spacingAndGlyphs">S11 without EBG and DGS</text>
<path d="M54.3 190.24H79.5" stroke="#7e2f8e" stroke-width="2.6" stroke-dasharray="12 40"/>
<text x="81" y="193.94" textLength="132.5" lengthAdjust="spacingAndGlyphs">S11 with EBG and DGS STEP 1</text>
<path d="M54.3 201.18H79.5" stroke="#edb120" stroke-width="3.0" stroke-dasharray="3 3"/>
<text x="81" y="204.88" textLength="132.5" lengthAdjust="spacingAndGlyphs">S11 with EBG and DGS STEP 2</text>
<path d="M54.3 212.12H79.5" stroke="#ff0000" stroke-width="2.8" stroke-dasharray="12 3 6 3"/>
<text x="81" y="215.82" textLength="132.5" lengthAdjust="spacingAndGlyphs">S11 with EBG and DGS STEP 3</text>
<path d="M54.3 223.06H79.5" stroke="#0000ff" stroke-width="3.0"/>
<text x="81" y="226.76" textLength="112.4" lengthAdjust="spacingAndGlyphs">S12 without EBG and DGS</text>
<path d="M54.3 234.00H79.5" stroke="#d9771a" stroke-width="2.6" stroke-dasharray="12 40"/>
<text x="81" y="237.70" textLength="132.5" lengthAdjust="spacingAndGlyphs">S12 with EBG and DGS STEP 1</text>
<path d="M54.3 244.94H79.5" stroke="#00ff00" stroke-width="3.0" stroke-dasharray="3 3"/>
<text x="81" y="248.64" textLength="132.5" lengthAdjust="spacingAndGlyphs">S12 with EBG and DGS STEP 2</text>
<path d="M54.3 255.88H79.5" stroke="#a2142f" stroke-width="2.8" stroke-dasharray="12 3 6 3"/>
<text x="81" y="259.58" textLength="132.5" lengthAdjust="spacingAndGlyphs">S12 with EBG and DGS STEP 3</text>
</g>
<defs><g id="dgs"><g fill="none" stroke="#6a1e1e" stroke-width="1.2"><circle cx="-3.35" cy="-3.8" r="1.6"/><circle cx="3.35" cy="-3.8" r="1.6"/><circle cx="-3.35" cy="3.8" r="1.6"/><circle cx="3.35" cy="3.8" r="1.6"/></g><circle r="2.6" fill="none" stroke="#4a3030" stroke-width="1.0"/><circle r="1.4" fill="none" stroke="#5a3a3a" stroke-width="0.8"/><circle r="0.7" fill="#b81010"/></g></defs>
<rect x="219.3" y="140.1" width="75.3" height="37.1" fill="#00ffff" stroke="#3aa" stroke-width="0.4"/>
<text x="222.4" y="145.9" font-family="Liberation Serif" font-weight="bold" font-size="6.8" fill="#000" stroke="#000" stroke-width="0.2">STEP 1</text>
<rect x="232.1" y="152.9" width="12.1" height="11.7" rx="1" fill="#7d1414"/>
<rect x="269.8" y="152.9" width="12.1" height="11.7" rx="1" fill="#7d1414"/>
<use href="#dgs" transform="translate(256.7,158.6)"/>
<rect x="219.3" y="181.5" width="75.3" height="37.6" fill="#00ffff" stroke="#3aa" stroke-width="0.4"/>
<text x="222.4" y="187.3" font-family="Liberation Serif" font-weight="bold" font-size="6.8" fill="#000" stroke="#000" stroke-width="0.2">STEP 2</text>
<rect x="232.2" y="194.2" width="12.1" height="11.7" rx="1" fill="#7d1414"/>
<rect x="269.9" y="194.2" width="12.1" height="11.7" rx="1" fill="#7d1414"/>
<use href="#dgs" transform="translate(257.4,192.9)"/>
<use href="#dgs" transform="translate(257.4,207.7)"/>
<rect x="219.3" y="222.9" width="75.3" height="37.6" fill="#00ffff" stroke="#3aa" stroke-width="0.4"/>
<text x="222.4" y="228.7" font-family="Liberation Serif" font-weight="bold" font-size="6.8" fill="#000" stroke="#000" stroke-width="0.2">STEP 3</text>
<rect x="233.0" y="236.2" width="12.1" height="11.7" rx="1" fill="#7d1414"/>
<rect x="270.2" y="236.2" width="12.1" height="11.7" rx="1" fill="#7d1414"/>
<use href="#dgs" transform="translate(250.9,234.1)"/>
<use href="#dgs" transform="translate(263.2,234.1)"/>
<use href="#dgs" transform="translate(250.9,248.7)"/>
<use href="#dgs" transform="translate(263.2,248.7)"/>
</svg></body></html>
